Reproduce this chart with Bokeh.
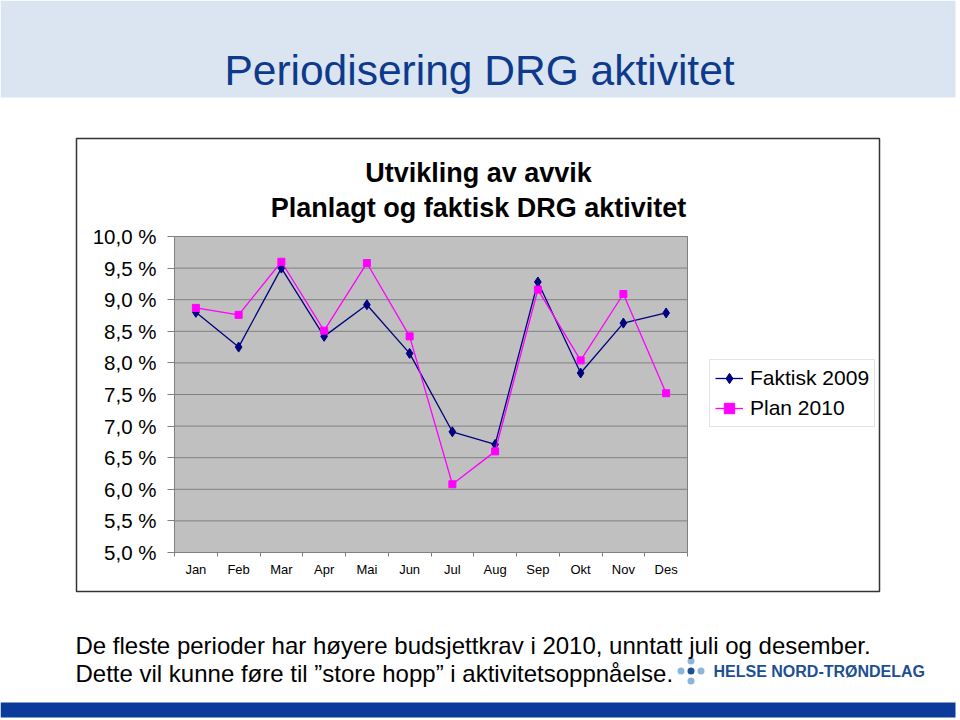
from bokeh.plotting import figure
from bokeh.models import (Range1d, LinearAxis, FixedTicker,
                          Legend, LegendItem, Label, BoxAnnotation)
from bokeh.embed import file_html
from bokeh.resources import INLINE

# ---------------- data ----------------
months = ["Jan", "Feb", "Mar", "Apr", "Mai", "Jun", "Jul", "Aug", "Sep", "Okt", "Nov", "Des"]
faktisk_2009 = [8.80, 8.25, 9.50, 8.42, 8.92, 8.15, 6.91, 6.71, 9.28, 7.84, 8.63, 8.79]
plan_2010 = [8.87, 8.76, 9.60, 8.51, 9.58, 8.42, 6.08, 6.60, 9.16, 8.04, 9.09, 7.52]
y_ticks = [5.0, 5.5, 6.0, 6.5, 7.0, 7.5, 8.0, 8.5, 9.0, 9.5, 10.0]
y_tick_labels = ["5,0 %", "5,5 %", "6,0 %", "6,5 %", "7,0 %", "7,5 %",
                 "8,0 %", "8,5 %", "9,0 %", "9,5 %", "10,0 %"]
series_names = ["Faktisk 2009", "Plan 2010"]
page_title = "Periodisering DRG aktivitet"
chart_title = ["Utvikling av avvik", "Planlagt og faktisk DRG aktivitet"]
notes = ["De fleste perioder har høyere budsjettkrav i 2010, unntatt juli og desember.",
         "Dette vil kunne føre til \u201dstore hopp\u201d i aktivitetsoppnåelse."]
logo_text = "HELSE NORD-TRØNDELAG"

FONT = "Liberation Sans"
NAVY = "#000080"
MAGENTA = "#ff00ff"
W, H = 960, 720

# category slots: month i is centred in slot [i, i+1]
n = len(months)
x_centers = [i + 0.5 for i in range(n)]
x_bounds = list(range(n + 1))
y_lo, y_hi = y_ticks[0], y_ticks[-1]

# plot area position on the page (pixels); the frame covers the whole page
PL, PR, PT, PB = 174, 687, 236, 552
kx = (PR - PL) / n
ky = (PB - PT) / (y_hi - y_lo)
x_range = Range1d(-PL / kx, n + (W - PR) / kx)
y_range = Range1d(y_lo - (H - PB) / ky, y_hi + PT / ky)

p = figure(width=W, height=H, x_range=x_range, y_range=y_range,
           x_axis_location=None, y_axis_location=None,
           output_backend="svg", toolbar_location=None, min_border=0,
           background_fill_color="white", border_fill_color="white",
           outline_line_color=None)
p.xgrid.visible = False
p.ygrid.visible = False

# page-pixel coordinate system for decorations
p.extra_x_ranges = {"px": Range1d(0, W)}
p.extra_y_ranges = {"px": Range1d(H, 0)}

# plot area + grid lines
p.quad(left=0, right=n, bottom=y_lo, top=y_hi, fill_color="#c0c0c0",
       line_color="#808080", line_width=1)
p.segment(x0=[0] * len(y_ticks), x1=[n] * len(y_ticks), y0=y_ticks, y1=y_ticks,
          line_color="#808080", line_width=1)

# y axis
ya = LinearAxis(fixed_location=0, ticker=FixedTicker(ticks=y_ticks),
                major_label_overrides=dict(zip(y_ticks, y_tick_labels)),
                major_label_text_font=FONT, major_label_text_font_size="20.5px",
                major_label_text_color="black",
                major_tick_out=7, major_tick_in=0, minor_tick_out=0, minor_tick_in=0,
                major_label_standoff=11, axis_line_color=None,
                major_tick_line_color="#808080")
p.add_layout(ya, "left")

# x axis: tick marks between categories + month labels at slot centres
tick_axis = LinearAxis(fixed_location=y_lo, ticker=FixedTicker(ticks=x_bounds),
                       major_tick_out=4, major_tick_in=0, minor_tick_out=0, minor_tick_in=0,
                       axis_line_color=None, major_tick_line_color="#808080",
                       major_label_overrides={i: "" for i in x_bounds},
                       major_label_text_font_size="1px", major_label_standoff=0)
cat_axis = LinearAxis(fixed_location=y_lo, ticker=FixedTicker(ticks=x_centers),
                      major_label_overrides=dict(zip(x_centers, months)),
                      major_tick_out=0, major_tick_in=0, minor_tick_out=0, minor_tick_in=0,
                      axis_line_color=None, major_tick_line_color=None,
                      major_label_text_font=FONT, major_label_text_font_size="13px",
                      major_label_text_color="black", major_label_standoff=9)
p.add_layout(tick_axis, "below")
p.add_layout(cat_axis, "below")

# series
r1 = p.line(x_centers, faktisk_2009, line_color=NAVY, line_width=1.3)
s1 = p.scatter(x_centers, faktisk_2009, marker="diamond", size=10, color=NAVY)
r2 = p.line(x_centers, plan_2010, line_color=MAGENTA, line_width=1.3)
s2 = p.scatter(x_centers, plan_2010, marker="square", size=7, color=MAGENTA)

legend = Legend(items=[LegendItem(label=series_names[0], renderers=[r1, s1]),
                       LegendItem(label=series_names[1], renderers=[r2, s2])],
                location=(709, H - 427), margin=0, padding=5, spacing=4,
                glyph_width=28, glyph_height=26, label_height=26, label_standoff=7,
                label_text_font=FONT, label_text_font_size="21px", label_text_color="black",
                border_line_color="#c8c8c8", border_line_width=1,
                background_fill_color="white", background_fill_alpha=1)
p.add_layout(legend)


# ---------------- page decorations (page-pixel coordinates) ----------------
def box(left, right, top, bottom, fill=None, line=None, lw=1, level="annotation"):
    b = BoxAnnotation(left=left, right=right, top=top, bottom=bottom,
                      x_range_name="px", y_range_name="px",
                      fill_color=fill, fill_alpha=1 if fill else 0,
                      line_color=line, line_width=lw, line_alpha=1 if line else 0,
                      level=level)
    p.add_layout(b)


def lab(text, x, y, size, color="black", bold=False, align="left"):
    p.add_layout(Label(x=x, y=y, x_range_name="px", y_range_name="px", text=text,
                       text_font=FONT, text_font_size=f"{size}px",
                       text_font_style="bold" if bold else "normal",
                       text_color=color, text_align=align, text_baseline="middle"))


# title band
box(0, 955, 0, 97, fill="#dbe5f1", level="underlay")
lab(page_title, 479, 70, 42.5, color="#0d3a8c", align="center")

# chart frame box
box(76, 879, 138, 591, line="#333333", lw=1.5)
lab(chart_title[0], 478, 172, 27, bold=True, align="center")
lab(chart_title[1], 478, 207, 27, bold=True, align="center")

# notes
lab(notes[0], 75, 645, 24)
lab(notes[1], 75, 673, 24)

# logo
p.scatter(x=[690.5, 680.5, 700.5, 690.5, 690.5], y=[660.5, 670.5, 670.5, 680.5, 670.5],
          marker="circle", size=7, line_color=None,
          fill_color=["#8db4da", "#8db4da", "#8db4da", "#8db4da", "#1d4f91"],
          x_range_name="px", y_range_name="px")
lab(logo_text, 713, 671, 16, color="#1d4f91", bold=True)

# bottom bar
box(0, 955, 702, 717, fill="#0b3a9b")

open("out.html", "w").write(file_html(p, INLINE))
